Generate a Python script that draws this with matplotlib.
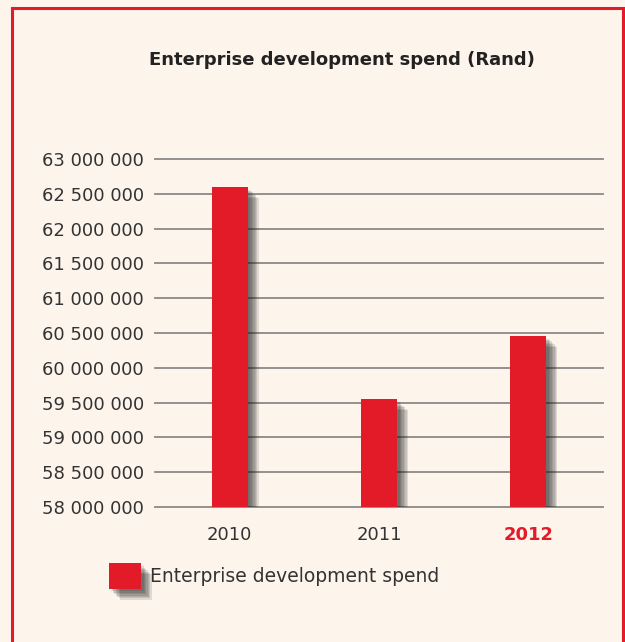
import numpy as np
import matplotlib as mpl
mpl.use("Agg")
import matplotlib.pyplot as plt
import matplotlib.patheffects as pe
from matplotlib.patches import Rectangle

# Data
years = ["2010", "2011", "2012"]
spend = [62600000, 59550000, 60460000]
series_name = "Enterprise development spend"
title = "Enterprise development spend (Rand)"
y_ticks = np.arange(58000000, 63000001, 500000)

bg = "#fdf4ec"
red = "#e31b29"

plt.rcParams["font.family"] = ["DejaVu Sans"]

fig = plt.figure(figsize=(6.25, 6.42), dpi=100, facecolor=bg)
ax = fig.add_axes([155 / 625, 1 - 507 / 642, 448 / 625, 348 / 642])
ax.set_facecolor(bg)

# soft shadow imitation
shadow = [pe.SimplePatchShadow(offset=(d, -d), shadow_rgbFace="#202020", alpha=0.13)
          for d in (8, 7, 6, 5, 4, 3, 2)]
x = np.arange(len(years))
bars = ax.bar(x, spend, width=0.24, color=red, label=series_name, zorder=3)
for b in bars:
    b.set_path_effects(shadow + [pe.Normal()])

ax.set_xlim(-0.5, 2.5)
ax.set_ylim(58000000, 63000000)
ax.set_yticks(y_ticks)
ax.set_yticklabels(["{:,}".format(v).replace(",", " ") for v in y_ticks])
ax.set_xticks(x)
ax.set_xticklabels(years)
ax.tick_params(axis="both", length=0, labelsize=13, colors="#333333")
ax.tick_params(axis="y", pad=8)
ax.tick_params(axis="x", pad=14)
lab = ax.get_xticklabels()[-1]
lab.set_color(red)
lab.set_fontweight("bold")

ax.grid(axis="y", color="#8a8886", lw=1.3)
for gl in ax.get_ygridlines():
    gl.set_clip_on(False)
ax.set_axisbelow(True)
for s in ax.spines.values():
    s.set_visible(False)

fig.text(342 / 625, 1 - 60 / 642, title, ha="center", va="center",
         fontsize=13, fontweight="bold", color="#222222")

# legend
leg = ax.legend(handles=[bars.patches[0]], labels=[series_name], frameon=False,
                loc="center left", bbox_to_anchor=(92 / 625, 1 - 576 / 642),
                bbox_transform=fig.transFigure, fontsize=13.5, handlelength=1.7,
                handleheight=1.7, handletextpad=0.5, labelcolor="#333333")
leg.legend_handles[0].set_path_effects(shadow + [pe.Normal()])

# red frame
fig.add_artist(Rectangle((12 / 625, -0.05), 611 / 625, 1.05 - 8 / 642,
                         transform=fig.transFigure, fill=False,
                         edgecolor=red, lw=2.2))

fig.savefig("out.png", dpi=100, facecolor=bg)
